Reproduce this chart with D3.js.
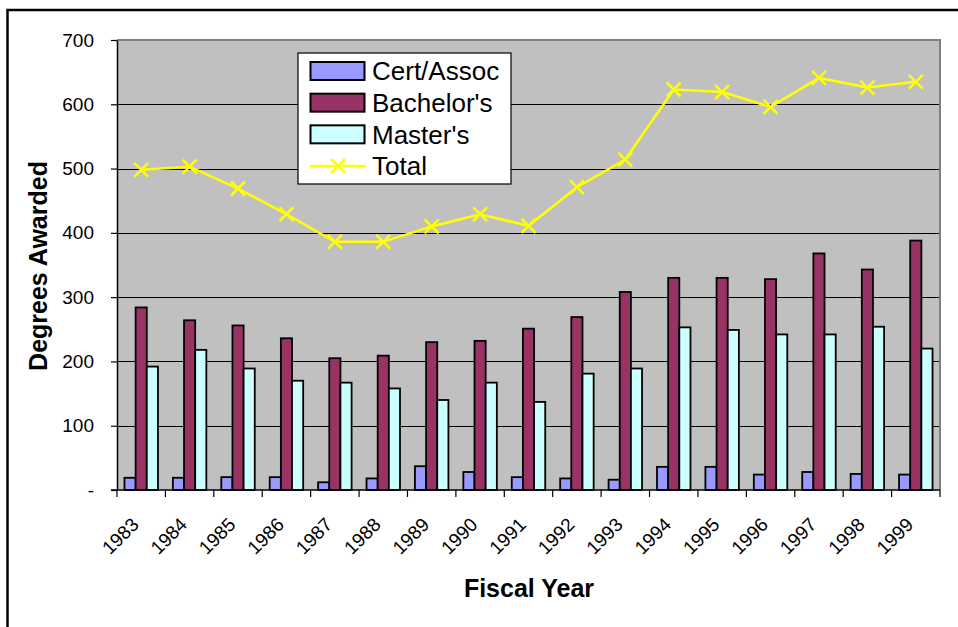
<!DOCTYPE html>
<html>
<head>
<meta charset="utf-8">
<style>
  body { margin: 0; background: #fff; }
  svg text { font-family: "Liberation Sans", Arial, sans-serif; }
</style>
</head>
<body>
<svg width="958" height="627"></svg>
<script src="https://cdn.jsdelivr.net/npm/d3@7"></script>
<script>
var years = ["1983","1984","1985","1986","1987","1988","1989","1990","1991",
             "1992","1993","1994","1995","1996","1997","1998","1999"];
var certAssoc = [19, 19, 20, 20, 12, 18, 37, 28, 20, 18, 16, 36, 36, 24, 28, 25, 24];
var bachelors = [284, 264, 256, 236, 205, 209, 230, 232, 251, 269, 308, 330, 330, 328, 368, 343, 388];
var masters   = [192, 218, 189, 170, 167, 158, 140, 167, 137, 181, 189, 253, 249, 242, 242, 254, 220];
var totals    = [498, 503, 469, 429, 386, 386, 410, 429, 411, 471, 514, 623, 619, 596, 641, 626, 635];
var yTicks = [0, 100, 200, 300, 400, 500, 600, 700];

var seriesNames = ["Cert/Assoc", "Bachelor's", "Master's"];
var seriesColors = ["#9999FF", "#993366", "#CCFFFF"];
var seriesValues = [certAssoc, bachelors, masters];

var svg = d3.select("svg");

// outer chart frame
svg.append("rect")
    .attr("x", 7.5).attr("y", 10)
    .attr("width", 1200).attr("height", 1200)
    .attr("fill", "#fff").attr("stroke", "#000").attr("stroke-width", 2.5);

var pLeft = 117, pRight = 940, pTop = 40, pBottom = 490;

var x0 = d3.scaleBand().domain(years).range([pLeft, pRight]).padding(0);
var x1 = d3.scaleBand().domain(seriesNames).range([0, x0.bandwidth()])
    .paddingInner(0).paddingOuter(0.67);
var y = d3.scaleLinear().domain([0, 700]).range([pBottom, pTop]);

// plot area
svg.append("rect")
    .attr("x", pLeft).attr("y", pTop)
    .attr("width", pRight - pLeft).attr("height", pBottom - pTop)
    .attr("fill", "#C0C0C0");

// gridlines
svg.append("g").selectAll("line")
    .data(yTicks.filter(t => t > 0 && t < 700))
    .join("line")
    .attr("x1", pLeft).attr("x2", pRight)
    .attr("y1", d => Math.round(y(d)) + 0.5).attr("y2", d => Math.round(y(d)) + 0.5)
    .attr("stroke", "#000").attr("stroke-width", 1);

// plot border top/right
svg.append("path")
    .attr("d", "M" + pLeft + "," + pTop + "H" + pRight + "V" + pBottom)
    .attr("fill", "none").attr("stroke", "#808080").attr("stroke-width", 2);

// bars
var groups = svg.append("g").selectAll("g")
    .data(years)
    .join("g")
    .attr("transform", d => "translate(" + x0(d) + ",0)");

groups.selectAll("rect")
    .data((d, i) => seriesNames.map((s, k) => ({ key: s, value: seriesValues[k][i], color: seriesColors[k] })))
    .join("rect")
    .attr("x", d => x1(d.key))
    .attr("y", d => y(d.value))
    .attr("width", x1.bandwidth())
    .attr("height", d => y(0) - y(d.value))
    .attr("fill", d => d.color)
    .attr("stroke", "#000").attr("stroke-width", 1.8);

// y axis
var yAxis = d3.axisLeft(y).tickValues(yTicks).tickSize(6).tickSizeOuter(0)
    .tickFormat(d => d === 0 ? "-" : d);
var yG = svg.append("g").attr("transform", "translate(" + pLeft + ",0)").call(yAxis);
yG.select(".domain").attr("stroke", "#000").attr("stroke-width", 1.5);
yG.selectAll(".tick line").attr("stroke", "#000").attr("stroke-width", 1.2);
yG.selectAll(".tick text")
    .attr("x", -23)
    .attr("font-size", 19)
    .attr("fill", "#000");

// x axis
var xAxis = d3.axisBottom(x0).tickSize(0).tickFormat("");
var xG = svg.append("g").attr("transform", "translate(0," + pBottom + ")").call(xAxis);
xG.select(".domain").remove();
xG.append("line").attr("x1", pLeft - 6).attr("x2", pRight).attr("y1", 0).attr("y2", 0)
    .attr("stroke", "#000").attr("stroke-width", 1.5);
xG.selectAll(".catTick")
    .data(years.concat(["end"]))
    .join("line")
    .attr("class", "catTick")
    .attr("x1", (d, i) => i < years.length ? x0(d) : pRight)
    .attr("x2", (d, i) => i < years.length ? x0(d) : pRight)
    .attr("y1", 0).attr("y2", 7)
    .attr("stroke", "#000").attr("stroke-width", 1.2);
xG.selectAll(".catLabel")
    .data(years)
    .join("text")
    .attr("class", "catLabel")
    .attr("transform", d => "translate(" + (x0(d) + x0.bandwidth() / 2 - 6) + ",31) rotate(-45)")
    .attr("text-anchor", "end")
    .attr("dy", "0.35em")
    .attr("font-size", 19)
    .attr("fill", "#000")
    .text(d => d);

// total line
var line = d3.line()
    .x((d, i) => x0(years[i]) + x0.bandwidth() / 2)
    .y(d => y(d));

svg.append("path")
    .datum(totals)
    .attr("d", line)
    .attr("fill", "none")
    .attr("stroke", "#FFFF00")
    .attr("stroke-width", 2.5);

var m = 7;
svg.append("g").selectAll("path")
    .data(totals)
    .join("path")
    .attr("d", (d, i) => {
        var cx = x0(years[i]) + x0.bandwidth() / 2, cy = y(d);
        return "M" + (cx - m) + "," + (cy - m) + "L" + (cx + m) + "," + (cy + m) +
               "M" + (cx - m) + "," + (cy + m) + "L" + (cx + m) + "," + (cy - m);
    })
    .attr("stroke", "#FFFF00").attr("stroke-width", 2.5).attr("fill", "none");

// axis titles
svg.append("text")
    .attr("transform", "translate(47,266) rotate(-90)")
    .attr("text-anchor", "middle")
    .attr("font-size", 25).attr("font-weight", "bold")
    .text("Degrees Awarded");

svg.append("text")
    .attr("x", 529).attr("y", 597)
    .attr("text-anchor", "middle")
    .attr("font-size", 25).attr("font-weight", "bold")
    .text("Fiscal Year");

// legend
var legend = svg.append("g").attr("transform", "translate(298,53)");
legend.append("rect")
    .attr("x", 0).attr("y", 0).attr("width", 213).attr("height", 131)
    .attr("fill", "#fff").attr("stroke", "#000").attr("stroke-width", 1.2);

var legendItems = seriesNames.concat(["Total"]);
var rowY = d3.scalePoint().domain(legendItems).range([18, 113]);

legendItems.forEach((name, k) => {
    var cy = rowY(name);
    if (k < 3) {
        legend.append("rect")
            .attr("x", 12.5).attr("y", cy - 9)
            .attr("width", 54).attr("height", 18)
            .attr("fill", seriesColors[k])
            .attr("stroke", "#000").attr("stroke-width", 2);
    } else {
        legend.append("line")
            .attr("x1", 12).attr("x2", 68).attr("y1", cy).attr("y2", cy)
            .attr("stroke", "#FFFF00").attr("stroke-width", 2.5);
        legend.append("path")
            .attr("d", "M" + (40 - m) + "," + (cy - m) + "L" + (40 + m) + "," + (cy + m) +
                       "M" + (40 - m) + "," + (cy + m) + "L" + (40 + m) + "," + (cy - m))
            .attr("stroke", "#FFFF00").attr("stroke-width", 2.5);
    }
    legend.append("text")
        .attr("x", 74).attr("y", cy)
        .attr("dy", "0.36em")
        .attr("font-size", 26)
        .attr("fill", "#000")
        .text(name);
});
</script>
</body>
</html>
